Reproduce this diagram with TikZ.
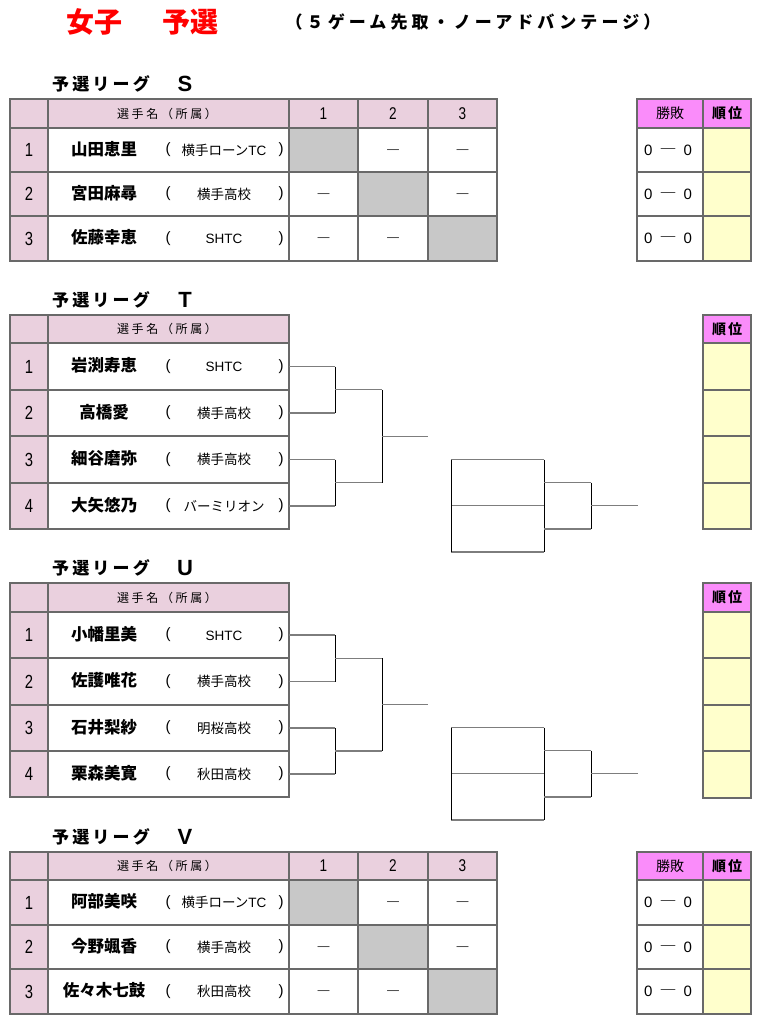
\documentclass[tikz,border=0pt]{standalone}
\usepackage{fontspec}
\usepackage{graphicx}
\usetikzlibrary{calc}
\setmainfont{Liberation Sans}
\newfontfamily\jp{Noto Sans CJK JP}
\newfontfamily\jpsp{Noto Sans CJK JP}[LetterSpace=24]
\newfontfamily\jplb{Noto Sans CJK JP}[LetterSpace=19]
\newfontfamily\jphd{Noto Sans CJK JP}[LetterSpace=22]
\definecolor{hdrpink}{RGB}{234,208,222}
\definecolor{hdrmag}{RGB}{250,140,250}
\definecolor{rankyel}{RGB}{255,255,204}
\definecolor{cellgray}{RGB}{200,200,200}
\definecolor{gridgray}{RGB}{105,105,105}
\definecolor{brkgray}{RGB}{125,125,125}
\definecolor{titlered}{RGB}{255,0,0}
\newcommand\nar[2][0.78]{\scalebox{#1}[1]{#2}}
\newcommand\cellat[6]{\node[cellbox,#6,minimum width={(#4-#2)*1pt},minimum height={(#5-#3)*1pt}] (#1) at ({(#2+#4)/2},{(#3+#5)/2}) {};}
\newcommand\prow[6]{%
 \cellat{#1n}{10}{#2}{48}{#3}{fill=hdrpink}
 \cellat{#1}{48}{#2}{289}{#3}{fill=white}
 \node[numtxt] (#1nt) at (29,{(#2+#3)/2}) {\nar{#4}};
 \node[nametxt] (#1nm) at (104,{(#2+#3)/2-1}) {#5};
 \node[partxt] (#1lp) at (168,{(#2+#3)/2}) {(};
 \node[afftxt] (#1af) at (224,{(#2+#3)/2}) {#6};
 \node[partxt] (#1rp) at (281,{(#2+#3)/2}) {)};
}
\newcommand\sect[3]{%
 \node[lbltxt] (#1lb) at (101,#2-15) {予選リーグ};
 \node[lbllet] (#1lt) at (185,#2-15) {#3};
}
\newcommand\nhead[3]{%
 \cellat{#1h0}{10}{#2}{48}{#3}{fill=hdrpink}
 \cellat{#1h}{48}{#2}{289}{#3}{fill=hdrpink}
 \node[hdrtxt] (#1ht) at (167,{(#2+#3)/2}) {選手名（所属）};
}
\newcommand\scorehead[3]{%
 \foreach \j/\xa/\xb in {1/289/358,2/358/428,3/428/497}{%
   \cellat{#1hc\j}{\xa}{#2}{\xb}{#3}{fill=hdrpink}
   \node[hnumtxt] (#1hn\j) at ({(\xa+\xb)/2},{(#2+#3)/2}) {\nar[0.8]{\j}};
 }
 \cellat{#1wh}{637}{#2}{703}{#3}{fill=hdrmag}
 \node[wltxt] (#1wt) at (670,{(#2+#3)/2}) {勝敗};
 \cellat{#1kh}{703}{#2}{751}{#3}{fill=hdrmag}
 \node[ranktxt] (#1kt) at (727,{(#2+#3)/2}) {順\hspace{2pt}位};
}
\newcommand\scorerow[4]{%
 \foreach \j/\xa/\xb in {1/289/358,2/358/428,3/428/497}{%
   \ifnum\j=#2\relax
     \cellat{#1r#2c\j}{\xa}{#3}{\xb}{#4}{fill=cellgray}
   \else
     \cellat{#1r#2c\j}{\xa}{#3}{\xb}{#4}{fill=white}
     \node[dashtxt] (#1r#2d\j) at ({(\xa+\xb)/2},{(#3+#4)/2}) {―};
   \fi
 }
 \cellat{#1w#2}{637}{#3}{703}{#4}{fill=white}
 \node[scoretxt] (#1s#2) at (668,{(#3+#4)/2}) {0\hspace{7pt}{\jp\fontsize{17}{17}\selectfont ―}\hspace{7pt}0};
 \cellat{#1k#2}{703}{#3}{751}{#4}{fill=rankyel}
}
\newcommand\bracket[5]{%
 \draw[hline] (#2.east) -- ++(46,0) coordinate (#1p1);
 \draw[hline] (#3.east) -- ++(46,0) coordinate (#1p2);
 \draw[hline] (#4.east) -- ++(46,0) coordinate (#1p3);
 \draw[hline] (#5.east) -- ++(46,0) coordinate (#1p4);
 \draw[vline] (#1p1) -- (#1p2);
 \draw[vline] (#1p3) -- (#1p4);
 \draw[hline] ($(#1p1)!0.5!(#1p2)$) -- ++(47,0) coordinate (#1q1);
 \draw[hline] ($(#1p3)!0.5!(#1p4)$) -- ++(47,0) coordinate (#1q2);
 \draw[vline] (#1q1) -- (#1q2);
 \draw[hline] ($(#1q1)!0.5!(#1q2)$) -- ++(46,0) coordinate (#1out);
}
\newcommand\boxbracket[3]{%
 \coordinate (#1a) at (451,#2); \coordinate (#1b) at (451,#2+#3/2); \coordinate (#1c) at (451,#2+#3);
 \coordinate (#1A) at (544,#2); \coordinate (#1B) at (544,#2+#3/2); \coordinate (#1C) at (544,#2+#3);
 \draw[hline] (#1a) -- (#1A); \draw[hline] (#1b) -- (#1B); \draw[hline] (#1c) -- (#1C);
 \draw[vline] (#1a) -- (#1c); \draw[vline] (#1A) -- (#1C);
 \coordinate (#1d) at ($(#1A)!0.5!(#1B)$); \coordinate (#1e) at ($(#1B)!0.5!(#1C)$);
 \draw[hline] (#1d) -- ++(47,0) coordinate (#1D);
 \draw[hline] (#1e) -- ++(47,0) coordinate (#1E);
 \draw[vline] (#1D) -- (#1E);
 \draw[hline] ($(#1D)!0.5!(#1E)$) -- ++(47,0) coordinate (#1out);
}
\newcommand\rankfour[7]{%
 \cellat{#1kh}{703}{#2}{751}{#3}{fill=hdrmag}
 \node[ranktxt] (#1kt) at (727,{(#2+#3)/2}) {順\hspace{2pt}位};
 \cellat{#1k1}{703}{#3}{751}{#4}{fill=rankyel}
 \cellat{#1k2}{703}{#4}{751}{#5}{fill=rankyel}
 \cellat{#1k3}{703}{#5}{751}{#6}{fill=rankyel}
 \cellat{#1k4}{703}{#6}{751}{#7}{fill=rankyel}
}
\begin{document}
\begin{tikzpicture}[x=1pt,y=-1pt,
  cellbox/.style={draw=gridgray,line width=1.1pt,inner sep=0pt,outer sep=0pt},
  txt/.style={inner sep=0pt,outer sep=0pt},
  cjk/.style={txt,text height={0.88*#1pt},text depth={0.12*#1pt}},
  ttl/.style={cjk=28,text=titlered,font=\jp\bfseries\fontsize{28}{30}\selectfont},
  sub/.style={cjk=17,font=\jpsp\bfseries\fontsize{17}{20}\selectfont},
  lbltxt/.style={cjk=17,font=\jplb\bfseries\fontsize{17}{20}\selectfont},
  lbllet/.style={txt,font=\bfseries\fontsize{22}{24}\selectfont},
  hdrtxt/.style={cjk=12,font=\jphd\fontsize{12}{14}\selectfont},
  hnumtxt/.style={txt,font=\fontsize{17}{18}\selectfont},
  numtxt/.style={txt,font=\fontsize{19}{20}\selectfont},
  nametxt/.style={cjk=16.5,font=\jp\bfseries\fontsize{16.5}{18}\selectfont},
  afftxt/.style={cjk=13.5,font=\jp\fontsize{13.5}{15}\selectfont},
  partxt/.style={txt,font=\fontsize{15}{16}\selectfont},
  dashtxt/.style={cjk=14,font=\jp\bfseries\fontsize{14}{16}\selectfont},
  scoretxt/.style={txt,font=\fontsize{15}{16}\selectfont},
  wltxt/.style={cjk=14,font=\jp\fontsize{14}{16}\selectfont},
  ranktxt/.style={cjk=14,font=\jp\bfseries\fontsize{14}{16}\selectfont},
  hline/.style={draw=brkgray,line width=1.4pt},
  vline/.style={draw=black,line width=1pt},
  dblline/.style={draw=gridgray,line width=2.4pt}]
\useasboundingbox (0,0) rectangle (766,1024);
% title
\node[ttl] (t1) at (94,22) {女子};
\node[ttl] (t2) at (190,22) {予選};
\node[sub] (t3) at (473,22) {（５ゲーム先取・ノーアドバンテージ）};
% ---------- S ----------
\sect{S}{99}{S}
\nhead{S}{99}{128}
\scorehead{S}{99}{128}
\prow{S1}{128}{172}{1}{山田恵里}{横手ローン{\rmfamily TC}}
\prow{S2}{172}{216}{2}{宮田麻尋}{横手高校}
\prow{S3}{216}{261}{3}{佐藤幸恵}{{\rmfamily SHTC}}
\scorerow{S}{1}{128}{172}
\scorerow{S}{2}{172}{216}
\scorerow{S}{3}{216}{261}
\draw[dblline] (Swh.north west) -- (Sw3.south west);
\draw[dblline] (Swh.north east) -- (Sw3.south east);
% ---------- T ----------
\sect{T}{315}{T}
\nhead{T}{315}{343}
\prow{T1}{343}{390}{1}{岩渕寿恵}{{\rmfamily SHTC}}
\prow{T2}{390}{436}{2}{高橋愛}{横手高校}
\prow{T3}{436}{483}{3}{細谷磨弥}{横手高校}
\prow{T4}{483}{529}{4}{大矢悠乃}{バーミリオン}
\rankfour{T}{315}{343}{390}{436}{483}{529}
\bracket{Tb}{T1}{T2}{T3}{T4}
\boxbracket{Tx}{459.5}{92.5}
% ---------- U ----------
\sect{U}{583}{U}
\nhead{U}{583}{612}
\prow{U1}{612}{658}{1}{小幡里美}{{\rmfamily SHTC}}
\prow{U2}{658}{705}{2}{佐護唯花}{横手高校}
\prow{U3}{705}{751}{3}{石井梨紗}{明桜高校}
\prow{U4}{751}{797}{4}{栗森美寛}{秋田高校}
\rankfour{U}{583}{612}{658}{705}{751}{798}
\bracket{Ub}{U1}{U2}{U3}{U4}
\boxbracket{Ux}{727.5}{92.5}
% ---------- V ----------
\sect{V}{852}{V}
\nhead{V}{852}{880}
\scorehead{V}{852}{880}
\prow{V1}{880}{925}{1}{阿部美咲}{横手ローン{\rmfamily TC}}
\prow{V2}{925}{969}{2}{今野颯香}{横手高校}
\prow{V3}{969}{1014}{3}{佐々木七鼓}{秋田高校}
\scorerow{V}{1}{880}{925}
\scorerow{V}{2}{925}{969}
\scorerow{V}{3}{969}{1014}
\draw[dblline] (Vwh.north west) -- (Vw3.south west);
\draw[dblline] (Vwh.north east) -- (Vw3.south east);
\end{tikzpicture}
\end{document}
